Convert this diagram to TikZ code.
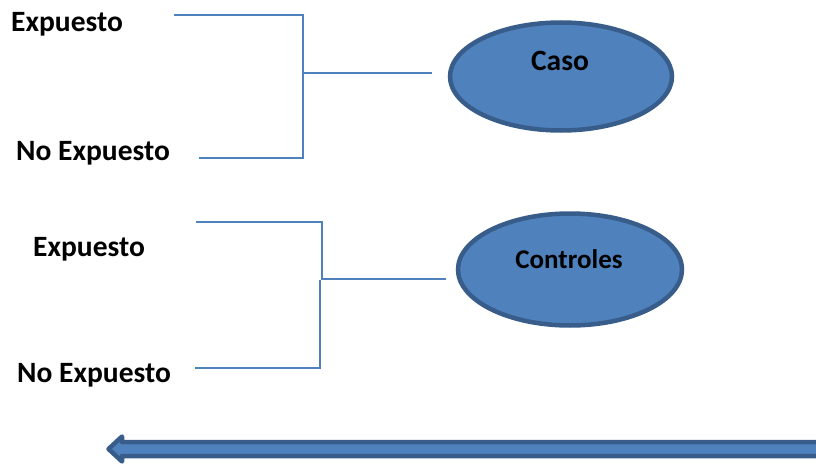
\documentclass[tikz,border=0pt]{standalone}
\usepackage{fontspec}
\setmainfont{Carlito}
\usepackage{tikz}
\usetikzlibrary{calc,shapes.geometric}

\definecolor{boxblue}{HTML}{4F81BD}
\definecolor{edgeblue}{HTML}{385D8A}

\begin{document}
\begin{tikzpicture}[x=1pt,y=-1pt,
  bracket/.style={boxblue,line width=2pt},
  label/.style={font=\fontsize{29.5}{31}\selectfont\bfseries,anchor=base west,inner sep=0},
  group/.style={ellipse,draw=edgeblue,fill=boxblue,line width=4.5pt,inner sep=0}]

\useasboundingbox (0,0) rectangle (816,468);

\node [label] (exp1) at (11,31.5) {Expuesto};
\node [label] (noexp1) at (16,160) {No Expuesto};
\node [label] (exp2) at (33,256) {Expuesto};
\node [label] (noexp2) at (17,382) {No Expuesto};

\node [group,minimum width=222pt,minimum height=108pt] (casobox) at (561,76.5) {};
\node [group,minimum width=224pt,minimum height=112pt] (ctrlbox) at (570,269.5) {};
\node [font=\fontsize{29.5}{31}\selectfont\bfseries,anchor=base,inner sep=0] (caso) at (560,70.5) {Caso};
\node [font=\fontsize{27}{29}\selectfont\bfseries,anchor=base,inner sep=0] (ctrl) at (569,268) {Controles};

\coordinate (ca-top) at (174,15.5);
\coordinate (ca-spine) at (303,73.5);
\coordinate (ca-bot) at (199,157.5);
\coordinate (ca-in) at (432,73.5);

\draw [bracket] (ca-top) -| (ca-spine) |- (ca-bot);
\draw [bracket] (ca-spine) -- (ca-in);

\coordinate (co-top) at (196,221.5);
\coordinate (co-spine) at (322,278.5);
\coordinate (co-spinetwo) at (319.5,280);
\coordinate (co-bot) at (195,368);
\coordinate (co-in) at (446,278.5);

\draw [bracket] (co-top) -| (co-spine) -- (co-in);
\draw [bracket] (co-spinetwo) |- (co-bot);

\draw [fill=boxblue,draw=edgeblue,line width=4.5pt,line join=round]
  (108.5,449) -- (122,436.5) -- (122,442) -- (830,442) -- (830,456)
  -- (122,456) -- (122,461.5) -- cycle;

\end{tikzpicture}
\end{document}
